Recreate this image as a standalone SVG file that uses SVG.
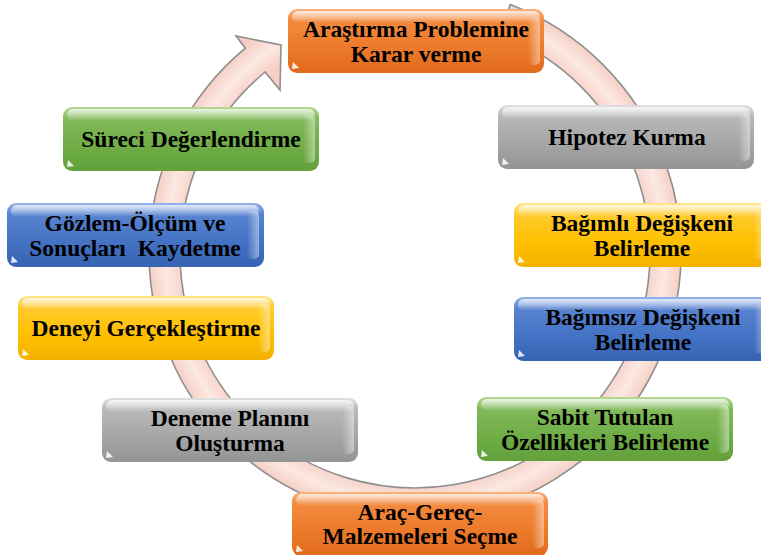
<svg xmlns="http://www.w3.org/2000/svg" width="761" height="555" viewBox="0 0 761 555">
<defs>
<radialGradient id="ringG" gradientUnits="userSpaceOnUse" cx="415" cy="253" r="290">
<stop offset="0" stop-color="#F6D0C6"/>
<stop offset="0.80" stop-color="#F6D0C6"/>
<stop offset="0.86" stop-color="#FCE9E3"/>
<stop offset="0.92" stop-color="#F5CFC4"/>
<stop offset="1" stop-color="#F2C6BA"/>
</radialGradient>
<linearGradient id="gOrange" x1="0" y1="0" x2="0" y2="1">
<stop offset="0" stop-color="#FAB27C"/><stop offset="0.18" stop-color="#F38A3E"/><stop offset="0.6" stop-color="#ED7A2B"/><stop offset="1" stop-color="#E06A1C"/>
</linearGradient>
<linearGradient id="gGray" x1="0" y1="0" x2="0" y2="1">
<stop offset="0" stop-color="#E0E0E0"/><stop offset="0.18" stop-color="#B8B8B8"/><stop offset="0.6" stop-color="#A6A6A6"/><stop offset="1" stop-color="#949494"/>
</linearGradient>
<linearGradient id="gYellow" x1="0" y1="0" x2="0" y2="1">
<stop offset="0" stop-color="#FFE68A"/><stop offset="0.18" stop-color="#FFCB2E"/><stop offset="0.6" stop-color="#FFC000"/><stop offset="1" stop-color="#F2B200"/>
</linearGradient>
<linearGradient id="gBlue" x1="0" y1="0" x2="0" y2="1">
<stop offset="0" stop-color="#93B3EA"/><stop offset="0.18" stop-color="#5883CF"/><stop offset="0.6" stop-color="#4472C4"/><stop offset="1" stop-color="#3763B4"/>
</linearGradient>
<linearGradient id="gGreen" x1="0" y1="0" x2="0" y2="1">
<stop offset="0" stop-color="#B4DA97"/><stop offset="0.18" stop-color="#82BA5A"/><stop offset="0.6" stop-color="#70AD47"/><stop offset="1" stop-color="#62A03B"/>
</linearGradient>
<linearGradient id="gHi" x1="0" y1="0" x2="0" y2="1">
<stop offset="0" stop-color="#FFFFFF" stop-opacity="0.75"/><stop offset="1" stop-color="#FFFFFF" stop-opacity="0"/>
</linearGradient>
<linearGradient id="gSide" x1="0" y1="0" x2="1" y2="0">
<stop offset="0" stop-color="#FFFFFF" stop-opacity="0"/><stop offset="1" stop-color="#FFFFFF" stop-opacity="0.45"/>
</linearGradient>
<g id="box">
<rect class="hi" x="4" y="2" width="248" height="12" rx="6"/>
<rect class="side" x="240" y="8" width="12" height="48" rx="5"/>
<polygon class="tri" points="4,60 5,53 11,59"/>
</g>
</defs>
<style>
.bx{stroke:none}
.hi{fill:url(#gHi)}
.side{fill:url(#gSide)}
.tri{fill:#FFFFFF;fill-opacity:0.85}
.o{fill:url(#gOrange)}
.g{fill:url(#gGray)}
.y{fill:url(#gYellow)}
.b{fill:url(#gBlue)}
.gr{fill:url(#gGreen)}
text{font-family:"Liberation Serif","Times New Roman",serif;font-weight:bold;font-size:23.5px;fill:#000;text-anchor:middle}
</style>
<rect width="761" height="555" fill="#FFFFFF"/>
<g id="connectors">
<path d="M510.3,4.6 A266,266 0 1 1 245.3,48.2 L236,36 L281,45 L280,90 L265.1,72 A235,235 0 1 0 499.1,33.5 Z" fill="url(#ringG)" stroke="#8E8E8E" stroke-width="1.6" stroke-linejoin="miter"/>
</g>
<g id="n1" transform="translate(288,9)">
<rect class="bx o" width="256" height="64" rx="9"/><use href="#box"/>
<text x="128" y="28">Araştırma Problemine</text><text x="128" y="53">Karar verme</text>
</g>
<g id="n2" transform="translate(498,105)">
<rect class="bx g" width="256" height="64" rx="9"/><use href="#box"/>
<text x="129" y="40">Hipotez Kurma</text>
</g>
<g id="n3" transform="translate(514,203)">
<rect class="bx y" width="256" height="64" rx="9"/><use href="#box"/>
<text x="128" y="27.5">Bağımlı Değişkeni</text><text x="128" y="52.5">Belirleme</text>
</g>
<g id="n4" transform="translate(514,297)">
<rect class="bx b" width="256" height="64" rx="9"/><use href="#box"/>
<text x="129" y="27.5">Bağımsız Değişkeni</text><text x="129" y="52.5">Belirleme</text>
</g>
<g id="n5" transform="translate(477,397)">
<rect class="bx gr" width="256" height="64" rx="9"/><use href="#box"/>
<text x="128" y="27.5">Sabit Tutulan</text><text x="128" y="52.5">Özellikleri Belirleme</text>
</g>
<g id="n6" transform="translate(292,492)">
<rect class="bx o" width="256" height="64" rx="9"/><use href="#box"/>
<text x="128" y="27.5">Araç-Gereç-</text><text x="128" y="52">Malzemeleri Seçme</text>
</g>
<g id="n7" transform="translate(102,398)">
<rect class="bx g" width="256" height="64" rx="9"/><use href="#box"/>
<text x="128" y="27.5">Deneme Planını</text><text x="128" y="52.5">Oluşturma</text>
</g>
<g id="n8" transform="translate(18,296)">
<rect class="bx y" width="256" height="64" rx="9"/><use href="#box"/>
<text x="128" y="40">Deneyi Gerçekleştirme</text>
</g>
<g id="n9" transform="translate(7,203)">
<rect class="bx b" width="257" height="64" rx="9"/><use href="#box"/>
<text x="128" y="27.5">Gözlem-Ölçüm ve</text><text x="128" y="52.5" style="white-space:pre">Sonuçları  Kaydetme</text>
</g>
<g id="n10" transform="translate(63,107)">
<rect class="bx gr" width="256" height="64" rx="9"/><use href="#box"/>
<text x="128" y="40">Süreci Değerlendirme</text>
</g>
</svg>
